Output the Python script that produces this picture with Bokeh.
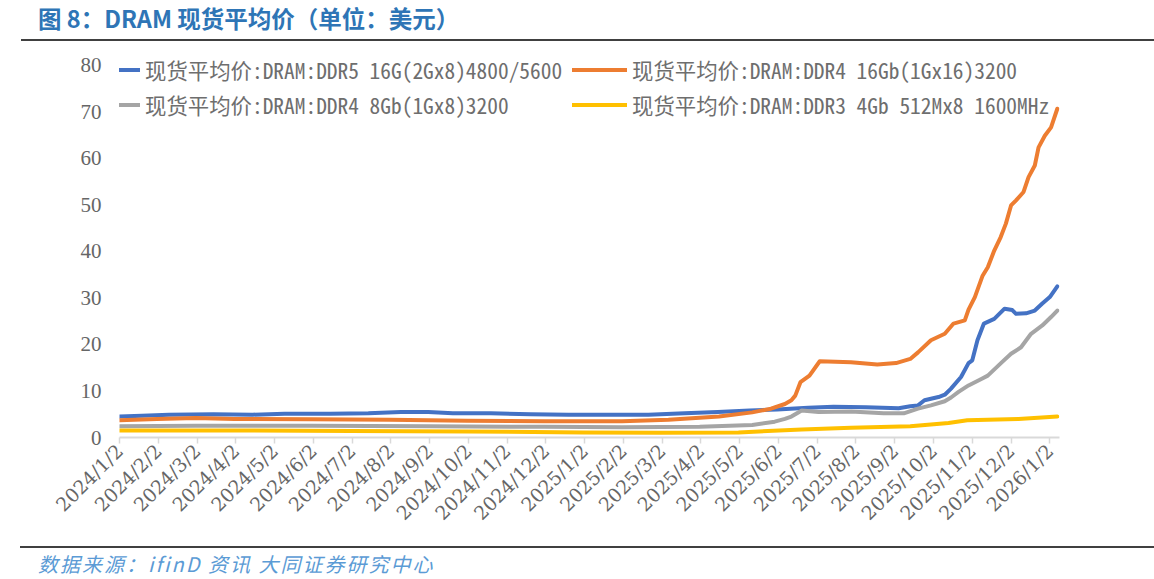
import math
import pandas as pd
from bokeh.plotting import figure
from bokeh.layouts import column
from bokeh.models import (Range1d, FixedTicker, Legend, LegendItem, Div, ColumnDataSource)
from bokeh.embed import file_html
from bokeh.resources import INLINE

# ---------------- data ----------------
tick_labels = ["2024/1/2", "2024/2/2", "2024/3/2", "2024/4/2", "2024/5/2", "2024/6/2",
               "2024/7/2", "2024/8/2", "2024/9/2", "2024/10/2", "2024/11/2", "2024/12/2",
               "2025/1/2", "2025/2/2", "2025/3/2", "2025/4/2", "2025/5/2", "2025/6/2",
               "2025/7/2", "2025/8/2", "2025/9/2", "2025/10/2", "2025/11/2", "2025/12/2",
               "2026/1/2"]
y_ticks = [0, 10, 20, 30, 40, 50, 60, 70, 80]

ddr5_dates = ["2024-01-02", "2024-01-20", "2024-02-10", "2024-03-15", "2024-04-15", "2024-05-10",
              "2024-06-15", "2024-07-15", "2024-08-10", "2024-09-01", "2024-09-20", "2024-10-20",
              "2024-11-20", "2024-12-20", "2025-01-20", "2025-02-20", "2025-03-20", "2025-04-15",
              "2025-05-10", "2025-06-01", "2025-06-25", "2025-07-15", "2025-08-10", "2025-09-05",
              "2025-09-14", "2025-09-20", "2025-09-25", "2025-10-06", "2025-10-11", "2025-10-16",
              "2025-10-24", "2025-10-30", "2025-11-02", "2025-11-06", "2025-11-11", "2025-11-19",
              "2025-11-27", "2025-12-03", "2025-12-06", "2025-12-14", "2025-12-21", "2025-12-27",
              "2026-01-02", "2026-01-08"]
ddr5_vals = [4.5, 4.7, 4.9, 5.0, 4.9, 5.1,
             5.1, 5.2, 5.5, 5.5, 5.2, 5.2,
             5.0, 4.9, 4.9, 4.9, 5.2, 5.5,
             5.8, 6.0, 6.4, 6.6, 6.5, 6.3,
             6.7, 6.9, 8.0, 8.7, 9.2, 10.5,
             13.0, 16.0, 16.6, 20.9, 24.5, 25.5,
             27.7, 27.4, 26.6, 26.7, 27.3, 28.8,
             30.2, 32.5]

ddr4_16_dates = ["2024-01-02", "2024-02-01", "2024-03-01", "2024-04-01", "2024-06-01", "2024-08-01",
                 "2024-10-01", "2024-12-01", "2025-02-01", "2025-03-07", "2025-04-16", "2025-05-12",
                 "2025-05-27", "2025-06-07", "2025-06-12", "2025-06-15", "2025-06-19", "2025-06-26",
                 "2025-07-04", "2025-07-29", "2025-08-19", "2025-09-03", "2025-09-14", "2025-09-20",
                 "2025-09-30", "2025-10-11", "2025-10-18", "2025-10-27", "2025-10-30", "2025-11-04",
                 "2025-11-10", "2025-11-14", "2025-11-19", "2025-11-24", "2025-11-28", "2025-12-02",
                 "2025-12-06", "2025-12-12", "2025-12-16", "2025-12-21", "2025-12-24", "2025-12-29",
                 "2026-01-03", "2026-01-08"]
ddr4_16_vals = [3.7, 4.0, 4.2, 4.0, 3.9, 3.8,
                3.6, 3.5, 3.5, 3.8, 4.5, 5.4,
                6.2, 7.2, 8.0, 9.0, 11.9, 13.3,
                16.4, 16.2, 15.7, 16.0, 16.9, 18.3,
                20.9, 22.3, 24.5, 25.2, 27.5, 30.2,
                34.8, 36.6, 40.2, 43.1, 46.0, 49.9,
                51.0, 52.8, 56.0, 58.5, 62.4, 64.9,
                66.7, 70.7]

ddr4_8_dates = ["2024-01-02", "2024-03-01", "2024-06-01", "2024-09-01", "2024-12-01", "2025-02-01",
                "2025-04-01", "2025-05-12", "2025-05-30", "2025-06-07", "2025-06-12", "2025-06-18",
                "2025-06-20", "2025-07-03", "2025-07-29", "2025-08-24", "2025-09-09", "2025-09-20",
                "2025-09-30", "2025-10-11", "2025-10-16", "2025-10-22", "2025-10-30", "2025-11-09",
                "2025-11-14", "2025-11-25", "2025-12-02", "2025-12-10", "2025-12-18", "2025-12-27",
                "2026-01-03", "2026-01-08"]
ddr4_8_vals = [2.4, 2.5, 2.5, 2.4, 2.3, 2.2,
               2.3, 2.7, 3.4, 4.0, 4.5, 5.5,
               5.8, 5.5, 5.6, 5.2, 5.2, 6.2,
               6.9, 7.8, 8.6, 9.8, 11.2, 12.6,
               13.3, 16.2, 18.0, 19.4, 22.3, 24.1,
               25.9, 27.3]

ddr3_dates = ["2024-01-02", "2024-04-01", "2024-07-01", "2024-10-01", "2025-01-01", "2025-03-01",
              "2025-05-01", "2025-06-20", "2025-07-29", "2025-09-14", "2025-10-14", "2025-10-29",
              "2025-12-08", "2026-01-08"]
ddr3_vals = [1.5, 1.5, 1.4, 1.3, 1.1, 1.0,
             1.1, 1.7, 2.1, 2.4, 3.1, 3.7,
             4.0, 4.5]

series_names = ["现货平均价:DRAM:DDR5 16G(2Gx8)4800/5600",
                "现货平均价:DRAM:DDR4 16Gb(1Gx16)3200",
                "现货平均价:DRAM:DDR4 8Gb(1Gx8)3200",
                "现货平均价:DRAM:DDR3 4Gb 512Mx8 1600MHz"]
series_colors = ["#4472C4", "#ED7D31", "#A5A5A5", "#FFC000"]

title_text = "图 8：DRAM 现货平均价（单位：美元）"
source_text = "数据来源：ifinD 资讯 大同证券研究中心"


def month_pos(s):
    d = pd.Timestamp(s)
    return (d.year - 2024) * 12 + (d.month - 1) + (d.day - 2) / d.days_in_month


# ---------------- title / source blocks ----------------
W = 1154
title_div = Div(
    text=('<div style="width:1133px;height:39px;margin-left:21px;border-bottom:2px solid #404040;'
          'box-sizing:content-box;">'
          '<div style="padding-left:17px;padding-top:3px;font-family:\'Noto Sans CJK SC\';'
          'font-weight:bold;font-size:23.5px;line-height:30px;color:#2E75B6;white-space:nowrap;">'
          + title_text + '</div></div>'),
    width=W, height=41, margin=0)

source_div = Div(
    text=('<div style="width:1134px;margin-left:20px;border-top:2px solid #404040;">'
          '<div style="padding-left:18px;padding-top:2px;font-family:\'Noto Sans CJK SC\';'
          'font-style:italic;font-size:20px;letter-spacing:2px;line-height:28px;color:#5B9BD5;'
          'white-space:nowrap;">'
          + source_text + '</div></div>'),
    width=W, height=33, margin=0)

# ---------------- figure ----------------
FH = 505
p = figure(width=W, height=FH, output_backend="svg", toolbar_location=None,
           x_range=Range1d(0, 24.25), y_range=Range1d(0, 84.3),
           min_border_left=119, min_border_right=95, min_border_top=4,
           min_border_bottom=FH - 396, margin=0)
p.outline_line_color = None
p.xgrid.visible = False
p.ygrid.visible = False
p.background_fill_color = "white"
p.border_fill_color = "white"

renderers = []
for dates, vals, color in [(ddr5_dates, ddr5_vals, series_colors[0]),
                           (ddr4_16_dates, ddr4_16_vals, series_colors[1]),
                           (ddr4_8_dates, ddr4_8_vals, series_colors[2]),
                           (ddr3_dates, ddr3_vals, series_colors[3])]:
    src = ColumnDataSource(dict(x=[month_pos(d) for d in dates], y=vals))
    r = p.line("x", "y", source=src, line_color=color, line_width=4,
               line_cap="round", line_join="round")
    renderers.append(r)

# axes
xa = p.xaxis[0]
xa.ticker = FixedTicker(ticks=list(range(len(tick_labels))))
xa.major_label_overrides = {i: lab for i, lab in enumerate(tick_labels)}
xa.major_label_orientation = math.pi / 4
xa.axis_line_color = "#D9D9D9"
xa.axis_line_width = 2
xa.major_tick_line_color = "#D9D9D9"
xa.major_tick_line_width = 1.5
xa.major_tick_out = 6
xa.major_tick_in = 0
xa.minor_tick_line_color = None
xa.major_label_text_font = "DejaVu Serif"
xa.major_label_text_font_size = "19px"
xa.major_label_text_color = "#666666"
xa.major_label_standoff = 4

ya = p.yaxis[0]
ya.ticker = FixedTicker(ticks=y_ticks)
ya.axis_line_color = None
ya.major_tick_line_color = None
ya.minor_tick_line_color = None
ya.major_label_text_font = "Liberation Serif"
ya.major_label_text_font_size = "21px"
ya.major_label_text_color = "#666666"
ya.major_label_standoff = 12

# legends (two columns)
legend_font = "Noto Sans Mono CJK SC"
for idx, vx in [((0, 2), -34), ((1, 3), 453)]:
    items = [LegendItem(label=series_names[i], renderers=[renderers[i]]) for i in idx]
    lg = Legend(items=items, location=(vx, 317), orientation="vertical",
                padding=0, margin=0, spacing=4, glyph_width=55, glyph_height=31,
                label_height=31, label_standoff=5,
                label_text_font=legend_font, label_text_font_size="21.4px",
                label_text_color="#6E6E6E", border_line_alpha=0,
                background_fill_alpha=0)
    p.add_layout(lg, "center")

layout = column(title_div, p, source_div, spacing=0, margin=0)
open("out.html", "w").write(file_html(layout, INLINE))
